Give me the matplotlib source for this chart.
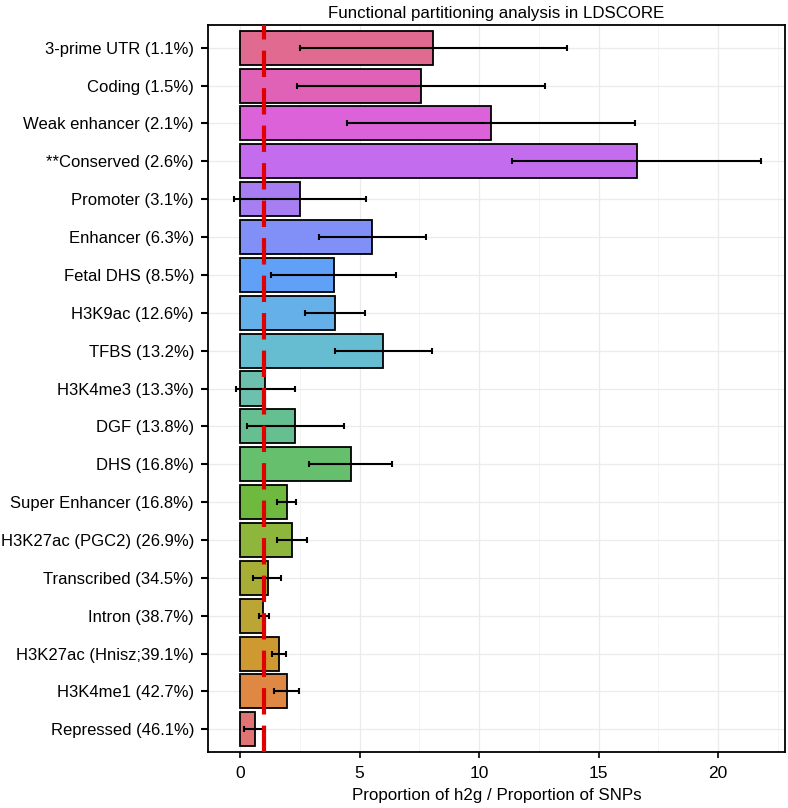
import matplotlib
matplotlib.use("Agg")
import matplotlib.pyplot as plt
import numpy as np

# categories listed from bottom to top (factor order)
categories = [
    "Repressed (46.1%)",
    "H3K4me1 (42.7%)",
    "H3K27ac (Hnisz;39.1%)",
    "Intron (38.7%)",
    "Transcribed (34.5%)",
    "H3K27ac (PGC2) (26.9%)",
    "Super Enhancer (16.8%)",
    "DHS (16.8%)",
    "DGF (13.8%)",
    "H3K4me3 (13.3%)",
    "TFBS (13.2%)",
    "H3K9ac (12.6%)",
    "Fetal DHS (8.5%)",
    "Enhancer (6.3%)",
    "Promoter (3.1%)",
    "**Conserved (2.6%)",
    "Weak enhancer (2.1%)",
    "Coding (1.5%)",
    "3-prime UTR (1.1%)",
]
enrichment = [0.61, 1.95, 1.63, 0.98, 1.16, 2.16, 1.95, 4.63, 2.31, 1.05,
              6.00, 3.97, 3.92, 5.53, 2.50, 16.59, 10.50, 7.56, 8.08]
err_low = [0.17, 1.42, 1.35, 0.79, 0.56, 1.56, 1.53, 2.87, 0.28, -0.18,
           3.99, 2.72, 1.31, 3.31, -0.25, 11.39, 4.49, 2.37, 2.49]
err_high = [1.06, 2.45, 1.91, 1.23, 1.72, 2.79, 2.34, 6.37, 4.34, 2.31,
            8.05, 5.22, 6.51, 7.76, 5.26, 21.80, 16.53, 12.75, 13.70]
x_ticks = [0, 5, 10, 15, 20]
null_ratio = 1.0

# fill colours, same order as categories (bottom to top)
colors = [
    "#E07474", "#DE8844", "#CF9932", "#BAA535", "#A8AD35", "#8FB63C",
    "#6FBA3E", "#66BF6C", "#66BF90", "#6CC0AE", "#66BCD0", "#66B0EA",
    "#60A0F6", "#8090F6", "#A67EF2", "#C46CEE", "#DB62D8", "#DF62B6",
    "#E06A90",
]

plt.rcParams["font.family"] = ["Liberation Sans", "DejaVu Sans"]
plt.rcParams["lines.scale_dashes"] = False

fig = plt.figure(figsize=(7.88, 8.08), dpi=100)
ax = fig.add_axes([208 / 788, 1 - 752 / 808, 577 / 788, 727 / 808])

ypos = np.arange(len(categories))
enr = np.array(enrichment)
xerr = np.vstack([enr - np.array(err_low), np.array(err_high) - enr])

ax.barh(ypos, enr, height=0.9, color=colors, edgecolor="black", linewidth=1.3, zorder=2)
ax.errorbar(enr, ypos, xerr=xerr, fmt="none", ecolor="black", elinewidth=1.5,
            capsize=2, capthick=1.5, zorder=3)
ax.axvline(null_ratio, color="#E00000", linewidth=3, linestyle=(0, (19, 8)), zorder=4)

ax.set_xlim(-1.34, 22.8)
ax.set_ylim(-0.6, len(categories) - 0.4)
ax.set_xticks(x_ticks)
ax.set_xticks([2.5, 7.5, 12.5, 17.5, 22.5], minor=True)
ax.set_yticks(ypos)
ax.set_yticklabels(categories)
ax.tick_params(axis="y", which="major", length=5, width=1.5, labelsize=12, pad=5)
ax.tick_params(axis="x", which="major", length=4, width=1.2, labelsize=12.5, pad=6)
ax.tick_params(axis="x", which="minor", length=0)
ax.grid(True, which="major", color="#ebebeb", linewidth=0.9, zorder=0)
ax.grid(True, which="minor", axis="x", color="#f2f2f2", linewidth=0.6, zorder=0)
ax.set_axisbelow(True)
for s in ax.spines.values():
    s.set_linewidth(1.3)

ax.set_title("Functional partitioning analysis in LDSCORE", fontsize=12.2, pad=5)
ax.set_xlabel("Proportion of h2g / Proportion of SNPs", fontsize=12.2, labelpad=5)

fig.savefig("out.png", dpi=100)
